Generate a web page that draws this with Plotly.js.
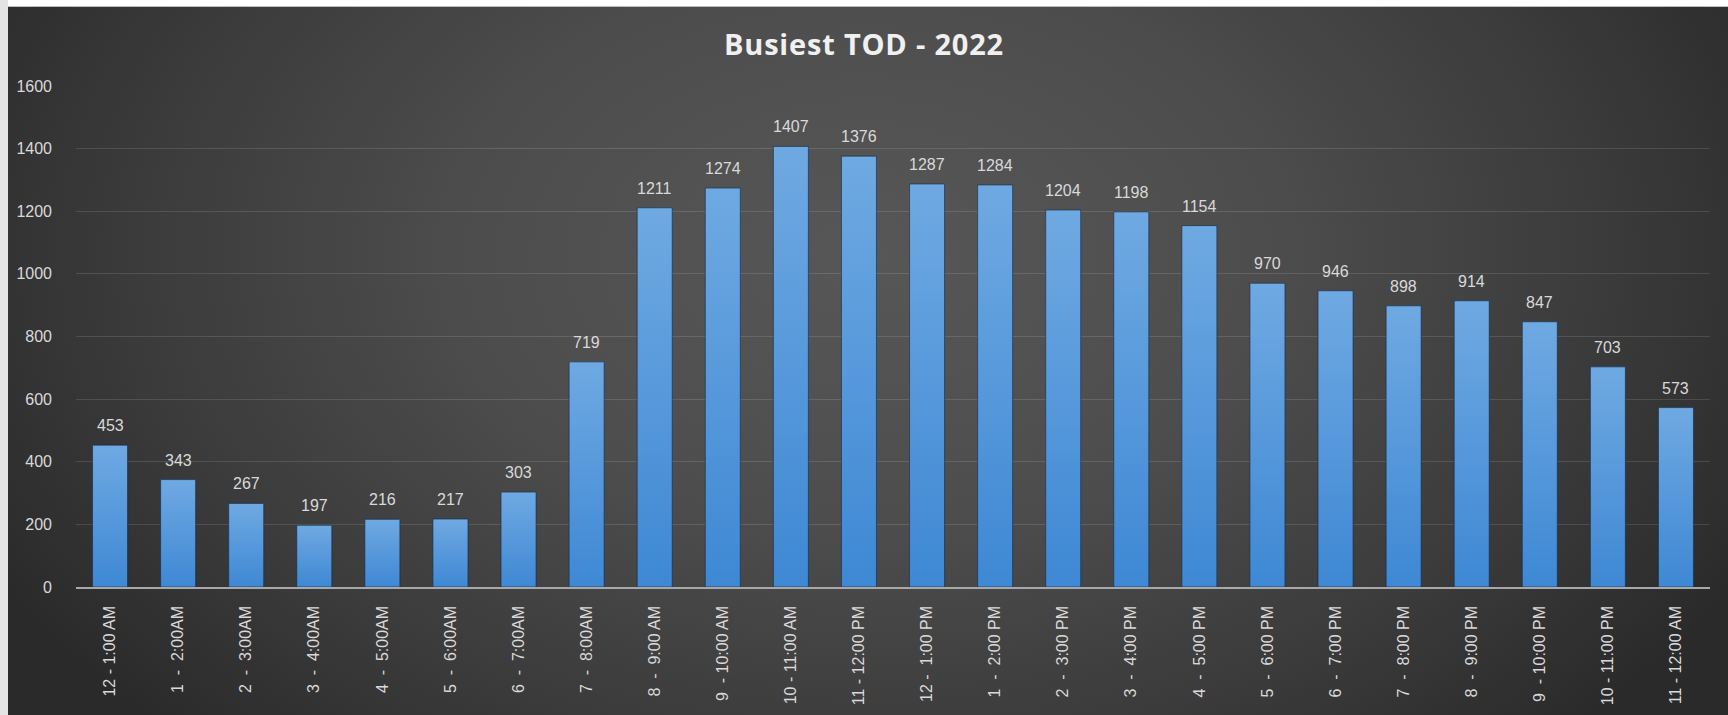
<!DOCTYPE html>
<html>
<head>
<meta charset="utf-8">
<script src="https://cdn.plot.ly/plotly-3.0.1.min.js"></script>
<style>
  html, body { margin: 0; padding: 0; width: 1728px; height: 715px; overflow: hidden; background: #ffffff; }
  #leftstrip { position: absolute; left: 0; top: 0; width: 8px; height: 715px; background: #e4e4e4; }
  #bg { position: absolute; left: 8px; top: 6px; width: 1720px; height: 709px;
        border-top: 1px solid #bdbdbd;
        background: radial-gradient(ellipse 58% 95% at 50% 35%, #575757 0%, #4d4d4d 40%, #3a3a3a 75%, #2a2a2a 100%); }
  #chart { position: absolute; left: 0; top: 0; width: 1728px; height: 715px; }
  .gtitle { letter-spacing: 0.8px; }
</style>
</head>
<body>
<div id="leftstrip"></div>
<div id="bg"></div>
<div id="chart"></div>
<script>
const categories = [
  "12 - 1:00 AM", "1\u00a0 - \u00a02:00AM", "2\u00a0 - \u00a03:00AM", "3\u00a0 - \u00a04:00AM",
  "4\u00a0 - \u00a05:00AM", "5\u00a0 - \u00a06:00AM", "6\u00a0 - \u00a07:00AM", "7\u00a0 - \u00a08:00AM",
  "8\u00a0 - \u00a09:00 AM", "9\u00a0 - 10:00 AM", "10 - 11:00 AM", "11 - 12:00 PM",
  "12 - \u00a01:00 PM", "1\u00a0 - \u00a02:00 PM", "2\u00a0 - \u00a03:00 PM", "3\u00a0 - \u00a04:00 PM",
  "4\u00a0 - \u00a05:00 PM", "5\u00a0 - \u00a06:00 PM", "6\u00a0 - \u00a07:00 PM", "7\u00a0 - \u00a08:00 PM",
  "8\u00a0 - \u00a09:00 PM", "9\u00a0 - 10:00 PM", "10 - 11:00 PM", "11 - 12:00 AM"
];
const values = [453, 343, 267, 197, 216, 217, 303, 719, 1211, 1274, 1407, 1376,
                1287, 1284, 1204, 1198, 1154, 970, 946, 898, 914, 847, 703, 573];
const yTicks = [0, 200, 400, 600, 800, 1000, 1200, 1400, 1600];
const chartTitle = "Busiest TOD - 2022";

const labelFont = { family: "Liberation Sans, Arial, sans-serif", size: 16, color: "#d9d9d9" };

const trace = {
  type: "bar",
  x: categories,
  y: values,
  marker: { color: "#5499dc", line: { color: "rgba(18,42,75,0.6)", width: 1 } },
  hoverinfo: "x+y"
};

const annotations = categories.map((c, i) => ({
  x: c, y: values[i], xref: "x", yref: "y",
  text: String(values[i]), showarrow: false,
  yanchor: "bottom", yshift: 9,
  font: labelFont
}));

const layout = {
  width: 1728, height: 715,
  margin: { l: 76, r: 18, t: 86, b: 128 },
  paper_bgcolor: "rgba(0,0,0,0)",
  plot_bgcolor: "rgba(0,0,0,0)",
  showlegend: false,
  bargap: 0.486,
  title: {
    text: "<b>" + chartTitle + "</b>",
    font: { family: "Open Sans, sans-serif", size: 29, color: "#f0f0f0" },
    x: 0.5, xanchor: "center",
    y: 1 - 45 / 715, yref: "container", yanchor: "middle"
  },
  xaxis: {
    type: "category",
    tickangle: -90,
    tickfont: labelFont,
    showline: true, linecolor: "#a8a8a8", linewidth: 1.5,
    showgrid: false, ticks: "", ticklabelstandoff: 11,
    fixedrange: true
  },
  yaxis: {
    range: [0, 1600],
    tickvals: yTicks,
    ticktext: yTicks.map(String),
    tickfont: labelFont,
    showgrid: true, gridcolor: "rgba(255,255,255,0.12)", gridwidth: 1.2,
    zeroline: false, showline: false, ticks: "",
    ticklabelstandoff: 23,
    fixedrange: true
  },
  annotations: annotations
};

Plotly.newPlot("chart", [trace], layout, { displayModeBar: false, staticPlot: true }).then(gd => {
  const svg = gd.querySelector("svg.main-svg");
  const ns = "http://www.w3.org/2000/svg";
  let defs = svg.querySelector("defs");
  if (!defs) { defs = document.createElementNS(ns, "defs"); svg.insertBefore(defs, svg.firstChild); }
  const g = document.createElementNS(ns, "linearGradient");
  g.setAttribute("id", "barGrad");
  g.setAttribute("x1", "0"); g.setAttribute("y1", "0");
  g.setAttribute("x2", "0"); g.setAttribute("y2", "1");
  [["0", "#6fa9e2"], ["1", "#3e88d4"]].forEach(([o, c]) => {
    const s = document.createElementNS(ns, "stop");
    s.setAttribute("offset", o); s.setAttribute("stop-color", c);
    g.appendChild(s);
  });
  defs.appendChild(g);
  gd.querySelectorAll(".bars .point path").forEach(p => { p.style.fill = "url(#barGrad)"; });
});
</script>
</body>
</html>
